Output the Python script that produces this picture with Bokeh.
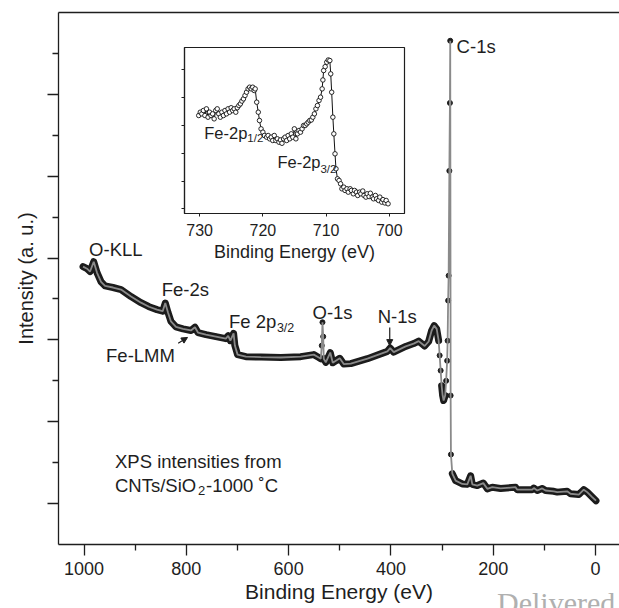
from bokeh.plotting import figure
from bokeh.models import (Range1d, FixedTicker, LinearAxis, Label, Arrow, NormalHead,
                          CustomJSTickFormatter, Div)
from bokeh.embed import file_html
from bokeh.resources import INLINE

FONT = "Liberation Sans"
INK = "#1e1e1e"

# ---------------- data: survey spectrum ----------------
survey_ev = [1002.0, 994.1, 988.3, 981.1, 974.6, 966.8, 959.0, 943.4, 927.7, 908.2,
             888.7, 873.0, 857.4, 846.3, 841.2, 835.9, 830.1, 820.3, 806.6, 791.0,
             783.2, 777.3, 761.7, 742.2, 722.7, 718.2, 713.9, 707.6, 705.1, 699.8,
             683.6, 654.3, 615.2, 576.2, 550.8, 541.0, 537.1, 535.2, 533.8, 532.4,
             531.3, 527.3, 518.6, 513.7, 500.0, 492.2, 478.5, 445.9, 406.8, 401.4,
             394.5, 371.1, 355.5, 345.7, 334.0, 326.2, 320.3, 315.4, 310.5, 306.6,
             304.7, 302.7, 300.8, 298.8, 296.9, 293.9, 292.0, 290.0, 289.1, 288.1,
             287.1, 285.7, 284.6, 284.0, 283.2, 282.6, 279.9, 273.4, 260.4, 250.6,
             244.1, 240.8, 231.1, 219.3, 211.5, 201.8, 185.5, 156.3, 152.9, 123.6,
             120.5, 113.9, 104.1, 97.7, 81.4, 74.8, 55.3, 48.8, 32.6, 22.9,
             16.2, 6.4, -1.0]
survey_int = [6.79, 6.74, 6.67, 6.91, 6.64, 6.42, 6.32, 6.28, 6.23, 6.06,
              5.91, 5.81, 5.74, 5.70, 5.90, 5.67, 5.45, 5.32, 5.27, 5.23,
              5.31, 5.18, 5.13, 5.08, 5.03, 5.10, 4.98, 5.16, 4.86, 4.64,
              4.59, 4.58, 4.57, 4.59, 4.64, 4.57, 4.54, 4.86, 5.43, 5.08,
              4.54, 4.45, 4.69, 4.44, 4.55, 4.41, 4.42, 4.54, 4.72, 4.80,
              4.70, 4.84, 4.91, 4.97, 4.85, 4.96, 5.23, 5.35, 5.27, 4.98,
              4.62, 4.25, 3.88, 3.64, 3.52, 3.64, 4.00, 4.49, 4.98, 5.96,
              6.57, 9.13, 10.79, 12.31, 3.64, 2.20, 1.73, 1.56, 1.48, 1.47,
              1.68, 1.47, 1.44, 1.50, 1.36, 1.40, 1.37, 1.40, 1.34, 1.34,
              1.38, 1.32, 1.37, 1.32, 1.30, 1.28, 1.30, 1.24, 1.22, 1.34,
              1.28, 1.16, 1.07]

x_major = [0, 200, 400, 600, 800, 1000]
x_minor = [100, 300, 500, 700, 900]
y_major = [1, 3, 5, 7, 9, 11]
y_minor = [2, 4, 6, 8, 10, 12]

# ---------------- data: Fe-2p inset ----------------
inset_ev = [730.15, 729.9, 729.66, 729.41, 729.17, 728.93, 728.68, 728.44, 728.2, 727.95,
            727.71, 727.46, 727.22, 726.98, 726.73, 726.49, 726.24, 726.0, 725.76, 725.51,
            725.27, 725.02, 724.78, 724.54, 724.29, 724.05, 723.8, 723.56, 723.32, 723.07,
            722.83, 722.59, 722.34, 722.1, 721.85, 721.61, 721.37, 721.22, 720.98, 720.73,
            720.54, 720.29, 720.0, 719.76, 719.41, 719.17, 718.93, 718.68, 718.44, 718.2,
            717.95, 717.71, 717.46, 717.22, 716.98, 716.73, 716.49, 716.24, 716.0, 715.76,
            715.51, 715.27, 715.02, 714.78, 714.54, 714.29, 714.05, 713.8, 713.56, 713.32,
            713.07, 712.83, 712.59, 712.34, 712.1, 711.85, 711.61, 711.37, 711.12, 710.88,
            710.63, 710.51, 710.39, 710.15, 709.9, 709.66, 709.41, 709.27, 709.12, 708.93,
            708.78, 708.59, 708.44, 708.2, 707.95, 707.71, 707.5, 707.2, 707.0, 706.7,
            706.5, 706.2, 706.0, 705.7, 705.5, 705.2, 705.0, 704.7, 704.5, 704.2,
            704.0, 703.7, 703.5, 703.2, 703.0, 702.7, 702.5, 702.2, 702.0, 701.7,
            701.5, 701.2, 701.0, 700.7, 700.5, 700.2]
inset_int = [4.36, 4.48, 4.42, 4.54, 4.36, 4.60, 4.30, 4.48, 4.36, 4.42,
             4.24, 4.54, 4.60, 4.42, 4.30, 4.48, 4.36, 4.54, 4.42, 4.60,
             4.48, 4.64, 4.54, 4.60, 4.48, 4.64, 4.72, 4.78, 4.88, 4.96,
             5.08, 5.20, 5.32, 5.38, 5.32, 5.38, 5.26, 5.32, 4.84, 4.48,
             4.18, 3.88, 3.76, 3.64, 3.58, 3.64, 3.52, 3.58, 3.46, 3.64,
             3.46, 3.52, 3.40, 3.48, 3.36, 3.52, 3.58, 3.46, 3.64, 3.52,
             3.70, 3.58, 3.88, 3.52, 3.70, 3.82, 3.76, 3.88, 4.00, 4.00,
             4.06, 4.12, 4.18, 4.20, 4.30, 4.42, 4.60, 4.72, 4.90, 5.02,
             5.32, 5.64, 5.98, 6.12, 6.28, 6.36, 6.34, 5.86, 5.20, 4.30,
             3.70, 2.98, 2.44, 2.08, 2.02, 1.90, 1.72, 1.78, 1.66, 1.72,
             1.60, 1.72, 1.66, 1.54, 1.66, 1.60, 1.48, 1.60, 1.54, 1.64,
             1.48, 1.42, 1.54, 1.44, 1.56, 1.42, 1.36, 1.48, 1.36, 1.30,
             1.42, 1.24, 1.33, 1.21, 1.30, 1.18]
inset_x_ticks = [700, 710, 720, 730]
inset_y_ticks = [1, 2, 3, 4, 5, 6]

BLANK = CustomJSTickFormatter(code="return ''")

# ---------------- main figure ----------------
X0, X1, Y0, Y1 = 1050, -47, 0, 13
W, H = 619, 608
BL, BR, BT, BB = 58, 0, 12, 64
p = figure(width=W, height=H, x_range=Range1d(X0, X1), y_range=Range1d(Y0, Y1),
           output_backend="svg", toolbar_location=None,
           min_border_left=BL, min_border_right=BR, min_border_top=BT, min_border_bottom=BB,
           x_axis_label="Binding Energy (eV)", y_axis_label="Intensity (a. u.)")
p.grid.visible = False
p.outline_line_color = None

xa = p.xaxis[0]
xa.ticker = FixedTicker(ticks=x_major, minor_ticks=x_minor)
ya = p.yaxis[0]
ya.ticker = FixedTicker(ticks=y_major, minor_ticks=y_minor)
ya.formatter = BLANK
for ax in (xa, ya):
    ax.axis_line_color = INK
    ax.axis_line_width = 1.3
    ax.major_tick_line_color = INK
    ax.minor_tick_line_color = INK
    ax.major_tick_line_width = 1.3
    ax.minor_tick_line_width = 1.3
    ax.major_tick_out = 11
    ax.major_tick_in = 0
    ax.minor_tick_out = 6
    ax.minor_tick_in = 0
    ax.axis_label_text_font = FONT
    ax.axis_label_text_font_style = "normal"
    ax.axis_label_text_color = INK
    ax.major_label_text_font = FONT
    ax.major_label_text_color = INK
xa.major_label_text_font_size = "18px"
xa.major_label_standoff = 6
xa.axis_label_text_font_size = "21px"
xa.axis_label_standoff = 2
ya.major_label_standoff = 0
ya.axis_label_text_font_size = "20px"
ya.axis_label_standoff = 11

top = LinearAxis(ticker=FixedTicker(ticks=[]), formatter=BLANK,
                 major_label_standoff=0, major_tick_out=0, major_tick_in=0,
                 minor_tick_out=0, minor_tick_in=0, axis_line_color=INK,
                 axis_line_width=1.3)
p.add_layout(top, "above")

# split the spectrum into densely sampled runs (thick band) and steep parts (thin line + dots)
px_per_ev = (W - BL - BR) / abs(X0 - X1)
px_per_int = (H - BT - BB) / (Y1 - Y0)
runs, cur = [], [0]
for i in range(len(survey_ev) - 1):
    dx = abs(survey_ev[i + 1] - survey_ev[i]) * px_per_ev
    dy = abs(survey_int[i + 1] - survey_int[i]) * px_per_int
    if dy > 10 and dy > 10 * dx:
        if len(cur) > 1:
            runs.append(cur)
        cur = [i + 1]
    else:
        cur.append(i + 1)
if len(cur) > 1:
    runs.append(cur)

p.multi_line(xs=[[survey_ev[k] for k in r] for r in runs],
             ys=[[survey_int[k] for k in r] for r in runs],
             line_color="#1c1c1c", line_width=7, line_join="round", line_cap="round")
p.scatter(survey_ev, survey_int, size=5, fill_color="#1c1c1c", line_color="#1c1c1c")
p.line(survey_ev, survey_int, line_color="#8a8a8a", line_width=1.8)

def lab(fig, x, y, t, size="18.5px", dx=0, dy=0, font=FONT, color=INK):
    fig.add_layout(Label(x=x, y=y, text=t, text_font=font, text_font_size=size,
                         text_color=color, text_baseline="middle",
                         x_offset=dx, y_offset=dy))

lab(p, 990.2, 7.20, "O-KLL")
lab(p, 848.2, 6.23, "Fe-2s")
lab(p, 957.0, 4.62, "Fe-LMM")
lab(p, 716.8, 5.45, "Fe 2p")
lab(p, 716.8, 5.45, "3/2", size="12.5px", dx=48, dy=-7)
lab(p, 553.3, 5.66, "O-1s")
lab(p, 425.8, 5.56, "N-1s")
lab(p, 271.5, 12.16, "C-1s")
lab(p, 939.5, 2.02, "XPS intensities from")
lab(p, 939.5, 1.44, "CNTs/SiO")
lab(p, 939.5, 1.44, "2", size="13px", dx=83, dy=-5)
lab(p, 939.5, 1.44, "-1000 \u02daC", dx=91)

p.add_layout(Arrow(end=NormalHead(size=6, fill_color=INK, line_color=INK),
                   x_start=816.0, y_start=4.92, x_end=797.7, y_end=5.06,
                   line_color=INK, line_width=1.2))
p.add_layout(Arrow(end=NormalHead(size=6, fill_color=INK, line_color=INK),
                   x_start=402.3, y_start=5.30, x_end=402.3, y_end=4.86,
                   line_color=INK, line_width=1.2))

# ---------------- inset ----------------
inset = figure(width=246, height=222, x_range=Range1d(732.4, 697.6),
               y_range=Range1d(0.83, 6.81), output_backend="svg", toolbar_location=None,
               min_border_left=10, min_border_right=16, min_border_top=4, min_border_bottom=52,
               x_axis_label="Binding Energy (eV)")
inset.grid.visible = False
inset.background_fill_alpha = 0
inset.border_fill_alpha = 0
inset.outline_line_color = INK
inset.outline_line_width = 1.2
ix = inset.xaxis[0]
iy = inset.yaxis[0]
ix.ticker = FixedTicker(ticks=inset_x_ticks, minor_ticks=[])
iy.ticker = FixedTicker(ticks=inset_y_ticks, minor_ticks=[])
iy.formatter = BLANK
for ax in (ix, iy):
    ax.axis_line_color = INK
    ax.axis_line_width = 1.2
    ax.major_tick_line_color = INK
    ax.major_tick_out = 3
    ax.major_tick_in = 0
    ax.minor_tick_out = 0
    ax.minor_tick_in = 0
    ax.major_label_text_font = FONT
    ax.major_label_text_color = INK
    ax.axis_label_text_font = FONT
    ax.axis_label_text_font_style = "normal"
    ax.axis_label_text_color = INK
ix.major_label_text_font_size = "16px"
ix.major_label_standoff = 7
ix.axis_label_text_font_size = "18px"
ix.axis_label_standoff = 3
iy.major_label_standoff = 0

inset.line(inset_ev, inset_int, line_color="#111111", line_width=1)
inset.scatter(inset_ev, inset_int, size=4.5, fill_color="white", line_color="#111111",
              line_width=0.9)
lab(inset, 729.27, 3.74, "Fe-2p", size="16.5px")
lab(inset, 729.27, 3.74, "1/2", size="11.5px", dx=43, dy=-5)
lab(inset, 717.7, 2.68, "Fe-2p", size="16.5px")
lab(inset, 717.7, 2.68, "3/2", size="11.5px", dx=43, dy=-7)

inset.styles = {"position": "absolute", "left": "174px", "top": "43px", "z-index": "2"}

# publisher watermark, cut by the bottom edge of the page
mark = Div(text="Delivered", width=121, height=20, margin=0,
           styles={"position": "absolute", "left": "497px", "top": "588px",
                   "overflow": "hidden", "white-space": "nowrap",
                   "font-family": "Liberation Serif", "font-size": "30px",
                   "line-height": "30px", "color": "#b0b0b0", "z-index": "3"})

open("out.html", "w").write(file_html([p, inset, mark], INLINE))
